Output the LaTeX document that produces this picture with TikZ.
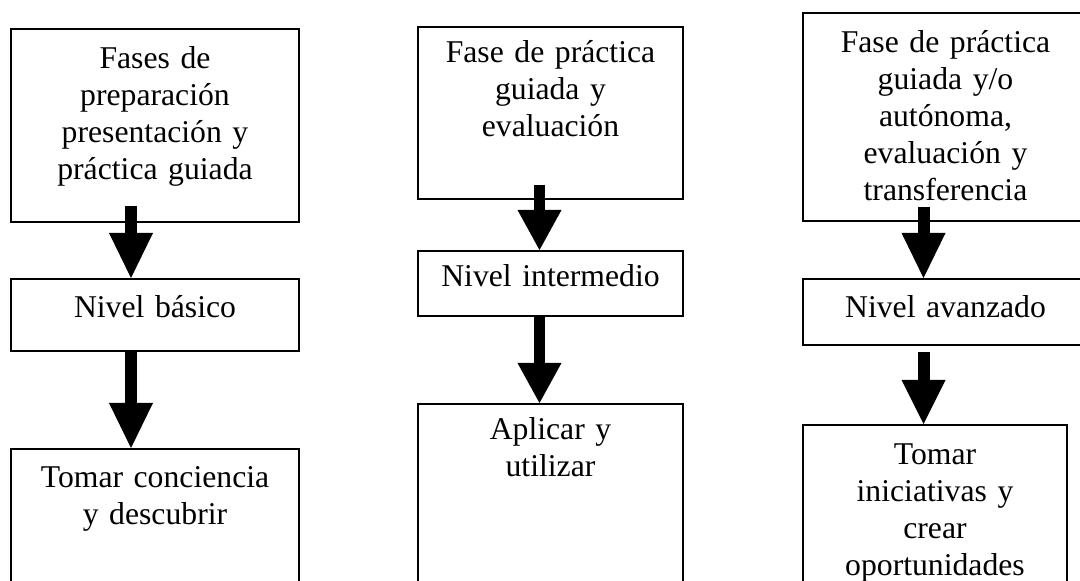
\documentclass[tikz,border=0pt]{standalone}
\usepackage{fontspec}
\setmainfont{Liberation Serif}
\usetikzlibrary{positioning}
\usetikzlibrary{arrows.meta}

\begin{document}
\begin{tikzpicture}[x=0.5pt, y=-0.5pt, every text node part/.style={align=center},
  caja/.style={draw, line width=1pt, inner sep=0pt, font=\fontsize{15.85pt}{18.5pt}\selectfont},
  flecha/.style={line width=6pt, -{Triangle[width=22pt, length=#1, line width=0pt]}}]

\useasboundingbox (0,0) rectangle (1080,581);
\clip (0,0) rectangle (1080,581);

% columna basica
\node (fase basico) [caja, anchor=north, text width=144pt, text height=20pt, text depth=76.5pt] at (155,28) {Fases de\\preparación\\presentación y\\práctica guiada};
\node (nivel basico) [caja, below=27.5pt of fase basico, text width=144pt, text height=19.5pt, text depth=16.5pt] {Nivel básico};
\node (meta basico) [caja, below=48pt of nivel basico, text width=144pt, text height=19.5pt, text depth=80pt] {Tomar conciencia\\y descubrir};

% columna intermedia
\node (fase intermedio) [caja, anchor=north, text width=132.5pt, text height=18pt, text depth=68pt] at (550.5,26) {Fase de práctica\\guiada y\\evaluación};
\node (nivel intermedio) [caja, below=25pt of fase intermedio, text width=132.5pt, text height=18pt, text depth=14.5pt] {Nivel intermedio};
\node (meta intermedio) [caja, below=43pt of nivel intermedio, text width=132.5pt, text height=18pt, text depth=90pt] {Aplicar y\\utilizar};

% columna avanzada
\node (fase avanzado) [caja, anchor=north, text width=142.5pt, text height=20pt, text depth=84pt] at (945.5,12) {Fase de práctica\\guiada y/o\\autónoma,\\evaluación y\\transferencia};
\node (nivel avanzado) [caja, below=28pt of fase avanzado, text width=142.5pt, text height=19.5pt, text depth=13.5pt] {Nivel avanzado};
\node (meta avanzado) [caja, below=39pt of nivel avanzado, xshift=-5.25pt, text width=132pt, text height=20pt, text depth=70pt] {Tomar\\iniciativas y\\crear\\oportunidades};

\draw [flecha=22.5pt] ([xshift=-12pt, yshift=8.5pt]fase basico.south) -- ([xshift=-12pt]nivel basico.north);
\draw [flecha=22.5pt] ([xshift=-12pt]nivel basico.south) -- ([xshift=-12pt]meta basico.north);

\draw [flecha=20pt, line width=5.5pt] ([xshift=-5.5pt, yshift=7.5pt]fase intermedio.south) -- ([xshift=-5.5pt]nivel intermedio.north);
\draw [flecha=20pt, line width=5.5pt] ([xshift=-5.5pt]nivel intermedio.south) -- ([xshift=-5.5pt]meta intermedio.north);

\draw [flecha=22.5pt] ([xshift=-11pt, yshift=7.5pt]fase avanzado.south) -- ([xshift=-11pt]nivel avanzado.north);
\draw [flecha=22pt] ([xshift=-11pt, yshift=-3pt]nivel avanzado.south) -- ([xshift=-11pt]nivel avanzado.south |- meta avanzado.north);

\end{tikzpicture}
\end{document}
